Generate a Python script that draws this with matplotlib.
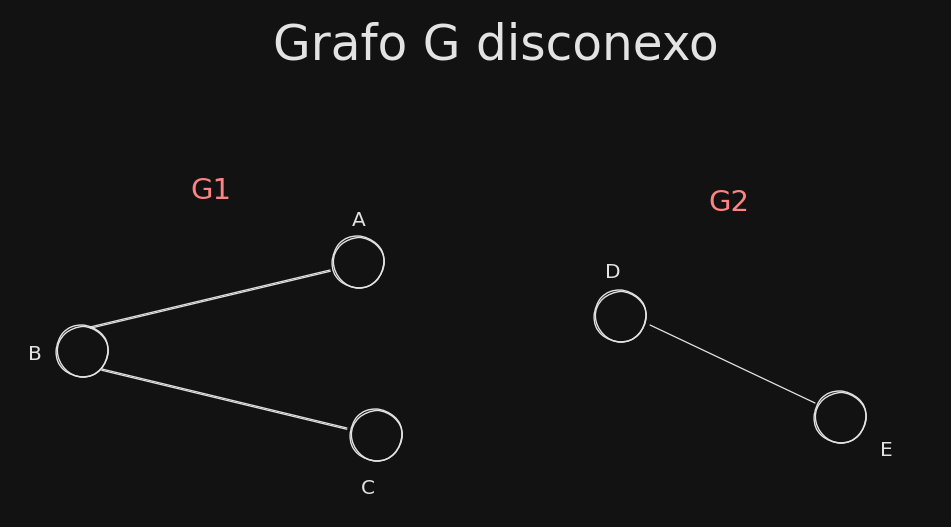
import numpy as np
import matplotlib.pyplot as plt
from matplotlib.patches import Circle

# nodes of the drawing (pixel space of the 951x527 canvas)
nodes = ["A", "B", "C", "D", "E"]
node_x = [358, 82, 376, 620, 840]
node_y = [262, 351, 435, 316, 417]
node_r = 26

# hand-drawn edges: start / end points
edge_x0 = [90, 102, 650]
edge_y0 = [327, 369, 325]
edge_x1 = [330, 347, 815]
edge_y1 = [270, 428, 403]
edge_double = [True, True, False]

label_x = [359, 35, 368, 613, 886]
label_y = [220, 355, 489, 272, 451]

groups = ["G1", "G2"]
group_x = [211, 729]
group_y = [191, 203]

title = "Grafo G disconexo"

BG = "#121212"
FG = "#e3e3e3"
RED = "#ff8383"

plt.rcParams['font.family'] = ['DejaVu Sans']

fig = plt.figure(figsize=(9.51, 5.27), dpi=100, facecolor=BG)
ax = fig.add_axes([0, 0, 1, 1])
ax.set_facecolor(BG)
ax.set_xlim(0, 951)
ax.set_ylim(527, 0)
ax.set_aspect('equal')
ax.axis('off')

# edges, double stroke like the sketch
for x0, y0, x1, y1, dbl in zip(edge_x0, edge_y0, edge_x1, edge_y1, edge_double):
    d = np.hypot(x1 - x0, y1 - y0)
    nx, ny = -(y1 - y0) / d, (x1 - x0) / d
    for off in ((0.0, 1.3) if dbl else (0.0,)):
        ax.plot([x0 + nx * off, x1 + nx * off], [y0 + ny * off, y1 + ny * off],
                color=FG, lw=0.9, solid_capstyle='round')

# nodes
for x, y in zip(node_x, node_y):
    for dx, dy, dr in ((0, 0, 0), (0.8, 0.6, -0.8)):
        c = Circle((x + dx, y + dy), node_r + dr, fill=False, ec=FG, lw=1.0)
        c.set_sketch_params(0.4, 40, 2)
        ax.add_patch(c)

for n, x, y in zip(nodes, label_x, label_y):
    ax.text(x, y, n, color=FG, fontsize=14.5, ha='center', va='center')

for g, x, y in zip(groups, group_x, group_y):
    ax.text(x, y, g, color=RED, fontsize=21, ha='center', va='center')

ax.text(496, 46, title, color=FG, fontsize=35, ha='center', va='center')

fig.savefig("out.png", dpi=100, facecolor=BG)
